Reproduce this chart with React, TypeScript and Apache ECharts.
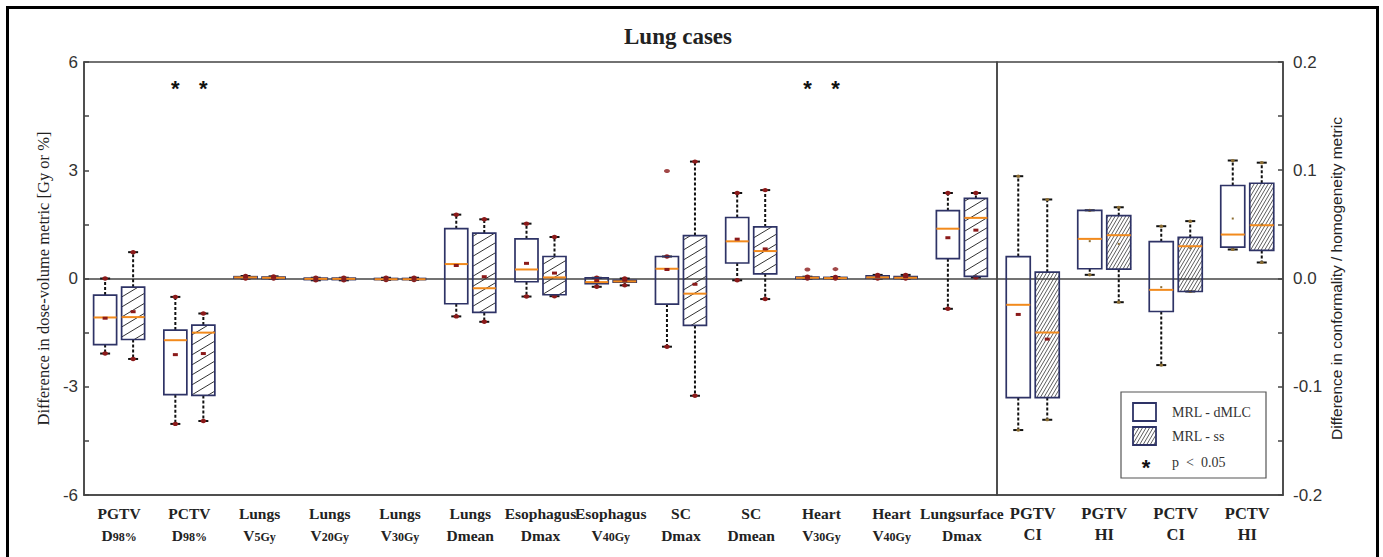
import React, { useEffect, useRef } from 'react';
import * as echarts from 'echarts';

// ---------- categories ----------
const leftLine1 = ['PGTV', 'PCTV', 'Lungs', 'Lungs', 'Lungs', 'Lungs', 'Esophagus', 'Esophagus', 'SC', 'SC', 'Heart', 'Heart', 'Lungsurface'];
const leftLine2 = ['D', 'D', 'V', 'V', 'V', 'Dmean', 'Dmax', 'V', 'Dmax', 'Dmean', 'V', 'V', 'Dmax'];
const leftSub = ['98%', '98%', '5Gy', '20Gy', '30Gy', '', '', '40Gy', '', '', '30Gy', '40Gy', ''];
const rightLine1 = ['PGTV', 'PGTV', 'PCTV', 'PCTV'];
const rightLine2 = ['CI', 'HI', 'CI', 'HI'];

// ---------- box statistics: [min, q1, median, q3, max, mean] ----------
const leftDmlc = [
  [-2.08, -1.83, -1.08, -0.46, 0.0, -1.1],
  [-4.03, -3.22, -1.71, -1.43, -0.51, -2.11],
  [0.0, 0.01, 0.03, 0.05, 0.07, 0.04],
  [-0.05, -0.03, -0.01, 0.01, 0.02, -0.01],
  [-0.04, -0.03, -0.02, 0.0, 0.02, -0.01],
  [-1.05, -0.7, 0.4, 1.38, 1.77, 0.36],
  [-0.5, -0.09, 0.25, 1.1, 1.52, 0.42],
  [-0.23, -0.14, -0.1, 0.02, 0.02, -0.06],
  [-1.89, -0.71, 0.27, 0.61, 0.61, 0.25],
  [-0.05, 0.43, 1.03, 1.69, 2.37, 1.09],
  [0.0, 0.0, 0.02, 0.04, 0.05, 0.03],
  [0.0, 0.01, 0.03, 0.07, 0.1, 0.06],
  [-0.84, 0.55, 1.38, 1.88, 2.37, 1.13],
];
const leftSs = [
  [-2.23, -1.69, -1.07, -0.24, 0.73, -0.92],
  [-3.95, -3.24, -1.5, -1.29, -0.97, -2.08],
  [0.0, 0.0, 0.02, 0.04, 0.06, 0.03],
  [-0.05, -0.03, -0.01, 0.01, 0.02, -0.01],
  [-0.04, -0.03, -0.02, 0.0, 0.02, -0.01],
  [-1.2, -0.94, -0.27, 1.26, 1.64, 0.05],
  [-0.49, -0.45, 0.03, 0.61, 1.15, 0.15],
  [-0.19, -0.1, -0.08, -0.05, 0.0, -0.05],
  [-3.25, -1.3, -0.42, 1.19, 3.24, -0.16],
  [-0.57, 0.13, 0.76, 1.43, 2.45, 0.82],
  [0.0, 0.0, 0.01, 0.03, 0.04, 0.02],
  [0.0, 0.0, 0.02, 0.05, 0.1, 0.05],
  [0.03, 0.06, 1.68, 2.22, 2.37, 1.34],
];
const rightDmlc = [
  [-0.14, -0.11, -0.0243, 0.0203, 0.0945, -0.0332],
  [0.0034, 0.009, 0.0366, 0.063, 0.063, 0.0345],
  [-0.08, -0.0305, -0.0105, 0.034, 0.0483, -0.008],
  [0.0268, 0.029, 0.0406, 0.0859, 0.109, 0.0554],
];
const rightSs = [
  [-0.1305, -0.11, -0.0499, 0.0058, 0.073, -0.056],
  [-0.0219, 0.0086, 0.04, 0.058, 0.0658, 0.032],
  [-0.012, -0.012, 0.0298, 0.0379, 0.053, 0.028],
  [0.0148, 0.0259, 0.0492, 0.088, 0.107, 0.05],
];

// outliers: [categoryIndex, value]
const leftOutliersDmlc = [[8, 2.98], [10, 0.25]];
const leftOutliersSs = [[10, 0.26]];

// significance markers (p < 0.05)
const sigCategories = [1, 10];
const sigLevel = 5.35;

// ---------- styles ----------
const NAVY = '#2e3366';
const ORANGE = '#f28a1c';
const DARKRED = '#8b1a1a';
const AXIS = '#444';
const SERIF = 'Liberation Serif';
const SANS = 'Liberation Sans';

function hatchLines(x0: number, y0: number, x1: number, y1: number, k: number, step: number, lw: number) {
  const out: any[] = [];
  const cStart = Math.ceil((y0 + k * x0) / step) * step;
  const cEnd = y1 + k * x1;
  for (let c = cStart; c <= cEnd; c += step) {
    const xa = Math.max(x0, (c - y1) / k);
    const xb = Math.min(x1, (c - y0) / k);
    if (xb - xa > 0.3) {
      out.push({
        type: 'line',
        shape: { x1: xa, y1: c - k * xa, x2: xb, y2: c - k * xb },
        style: { stroke: '#333', lineWidth: lw },
      });
    }
  }
  return out;
}

function makeRender(offset: number, bw: number, hatched: boolean, k: number, step: number, right: boolean) {
  return (params: any, api: any) => {
    const cat = api.value(0);
    const mn = api.value(1), q1 = api.value(2), md = api.value(3), q3 = api.value(4), mx = api.value(5), mean = api.value(6);
    const cx = api.coord([cat, 0])[0] + offset;
    const Y = (v: number) => api.coord([cat, v])[1];
    const yMin = Y(mn), yQ1 = Y(q1), yMd = Y(md), yQ3 = Y(q3), yMax = Y(mx), yMean = Y(mean);
    const children: any[] = [];
    const whisk = { stroke: '#111', lineWidth: 2, lineDash: [3, 2] };
    if (yMax < yQ3 - 0.5) children.push({ type: 'line', shape: { x1: cx, y1: yQ3, x2: cx, y2: yMax }, style: whisk });
    if (yMin > yQ1 + 0.5) children.push({ type: 'line', shape: { x1: cx, y1: yQ1, x2: cx, y2: yMin }, style: whisk });
    const capDot = right ? '#8c6d32' : DARKRED;
    [yMax, yMin].forEach((yy) => {
      children.push({ type: 'line', shape: { x1: cx - 5, y1: yy, x2: cx + 5, y2: yy }, style: { stroke: '#111', lineWidth: 2 } });
      children.push({ type: 'ellipse', shape: { cx, cy: yy, rx: right ? 2 : 2.8, ry: right ? 1.6 : 2.2 }, style: { fill: capDot } });
    });
    const x0 = cx - bw / 2, x1 = cx + bw / 2;
    const top = Math.min(yQ3, yQ1), bot = Math.max(yQ3, yQ1);
    if (hatched) children.push(...hatchLines(x0, top, x1, bot, k, step, right ? 0.8 : 1));
    children.push({
      type: 'rect',
      shape: { x: x0, y: top, width: bw, height: Math.max(bot - top, 1) },
      style: { fill: 'none', stroke: NAVY, lineWidth: 1.7 },
    });
    children.push({ type: 'line', shape: { x1: x0, y1: yMd, x2: x1, y2: yMd }, style: { stroke: ORANGE, lineWidth: 2 } });
    const big = !right || cat === 0;
    children.push({
      type: 'rect',
      shape: big ? { x: cx - 2.5, y: yMean - 1.5, width: 5, height: 3 } : { x: cx - 1, y: yMean - 1, width: 2, height: 2 },
      style: { fill: big ? DARKRED : '#8c6d32' },
    });
    return { type: 'group', children };
  };
}

const zeroLine = {
  silent: true,
  symbol: ['none', 'none'],
  label: { show: false },
  lineStyle: { color: AXIS, width: 1.5, type: 'solid' },
  data: [{ yAxis: 0 }],
};

function legendGraphic() {
  const els: any[] = [];
  els.push({ type: 'rect', shape: { x: 1121, y: 392, width: 145, height: 86 }, style: { fill: '#fff', stroke: '#555', lineWidth: 1.2 }, z: 100 });
  els.push({ type: 'rect', shape: { x: 1133, y: 403, width: 23, height: 18 }, style: { fill: 'none', stroke: NAVY, lineWidth: 1.8 }, z: 101 });
  hatchLines(1133, 427, 1156, 445, 1.7, 6, 0.8).forEach((l) => els.push({ ...l, z: 101 }));
  els.push({ type: 'rect', shape: { x: 1133, y: 427, width: 23, height: 18 }, style: { fill: 'none', stroke: NAVY, lineWidth: 1.8 }, z: 101 });
  const ts = { fontFamily: SERIF, fontSize: 14, fill: '#333', verticalAlign: 'middle', align: 'left' };
  els.push({ type: 'text', x: 1172, y: 412, style: { ...ts, text: 'MRL - dMLC' }, z: 101 });
  els.push({ type: 'text', x: 1172, y: 436, style: { ...ts, text: 'MRL - ss' }, z: 101 });
  els.push({ type: 'text', x: 1146, y: 467, style: { text: '*', fontFamily: SANS, fontWeight: 'bold', fontSize: 22, fill: '#111', align: 'center', verticalAlign: 'middle' }, z: 101 });
  els.push({ type: 'text', x: 1172, y: 462, style: { ...ts, text: 'p\u00a0\u00a0<\u00a0\u00a00.05' }, z: 101 });
  return els;
}

const leftLabelRich = {
  a: { fontFamily: SERIF, fontWeight: 'bold', fontSize: 15.5, lineHeight: 20, color: '#222' },
  b: { fontFamily: SERIF, fontWeight: 'bold', fontSize: 15.5, lineHeight: 20, color: '#222', verticalAlign: 'bottom' },
  s: { fontFamily: SERIF, fontWeight: 'bold', fontSize: 12, lineHeight: 20, color: '#222', verticalAlign: 'bottom' },
};
const rightLabelRich = {
  a: { fontFamily: SERIF, fontWeight: 'bold', fontSize: 16.5, lineHeight: 21, color: '#222' },
  b: { fontFamily: SERIF, fontWeight: 'bold', fontSize: 16.5, lineHeight: 21, color: '#222' },
};

function buildOption() {
  const gridCommon = { top: 62, bottom: 62, show: true, borderColor: AXIS, borderWidth: 1.5, containLabel: false };
  const xCommon = {
    type: 'category',
    boundaryGap: true,
    axisLine: { onZero: false, lineStyle: { color: AXIS, width: 1.5 } },
    axisTick: { inside: true, alignWithLabel: true, length: 6, lineStyle: { color: AXIS, width: 1.5 } },
    splitLine: { show: false },
  };
  return {
    animation: false,
    backgroundColor: '#fff',
    title: {
      text: 'Lung cases',
      left: 619,
      top: 20,
      textStyle: { fontFamily: SERIF, fontWeight: 'bold', fontSize: 23, color: '#222' },
    },
    grid: [
      { ...gridCommon, left: 84, right: 386 },
      { ...gridCommon, left: 997, right: 100 },
    ],
    xAxis: [
      {
        ...xCommon,
        gridIndex: 0,
        data: leftLine1.map((_, i) => i),
        axisLabel: {
          interval: 0,
          margin: 8,
          rich: leftLabelRich,
          formatter: (_v: any, i: number) =>
            `{a|${leftLine1[i]}}\n{b|${leftLine2[i]}}` + (leftSub[i] ? `{s|${leftSub[i]}}` : ''),
        },
      },
      {
        ...xCommon,
        gridIndex: 1,
        data: rightLine1.map((_, i) => i),
        axisLabel: {
          interval: 0,
          margin: 8,
          rich: rightLabelRich,
          formatter: (_v: any, i: number) => `{a|${rightLine1[i]}}\n{b|${rightLine2[i]}}`,
        },
      },
    ],
    yAxis: [
      {
        type: 'value',
        gridIndex: 0,
        min: -6,
        max: 6,
        interval: 1.5,
        axisLine: { show: true, lineStyle: { color: AXIS, width: 1.5 } },
        axisTick: { show: true, inside: true, length: 5, lineStyle: { color: AXIS, width: 1.5 } },
        splitLine: { show: false },
        axisLabel: {
          margin: 6,
          fontFamily: SANS,
          fontSize: 17,
          color: '#333',
          formatter: (v: number) => (Math.abs(v % 3) < 1e-9 ? String(v) : ''),
        },
        name: 'Difference in dose-volume metric [Gy or %]',
        nameLocation: 'middle',
        nameGap: 29,
        nameTextStyle: { fontFamily: SERIF, fontSize: 16.5, color: '#222' },
      },
      {
        type: 'value',
        gridIndex: 1,
        position: 'right',
        min: -0.2,
        max: 0.2,
        interval: 0.05,
        axisLine: { show: true, lineStyle: { color: AXIS, width: 1.5 } },
        axisTick: { show: true, inside: true, length: 5, lineStyle: { color: AXIS, width: 1.5 } },
        splitLine: { show: false },
        axisLabel: {
          margin: 10,
          fontFamily: SANS,
          fontSize: 17,
          color: '#333',
          formatter: (v: number) => {
            const r = Math.round(v * 100);
            if (r % 10 !== 0) return '';
            return r === 0 ? '0.0' : (r / 100).toFixed(1);
          },
        },
        name: 'Difference in conformality / homogeneity metric',
        nameLocation: 'middle',
        nameGap: 45,
        nameTextStyle: { fontFamily: SANS, fontSize: 15.5, color: '#222' },
      },
    ],
    graphic: [
      { type: 'rect', shape: { x: 7.5, y: 7.5, width: 1370, height: 620 }, style: { fill: 'none', stroke: '#000', lineWidth: 3 }, z: 200 },
      ...legendGraphic(),
    ],
    series: [
      {
        type: 'custom',
        name: 'MRL - dMLC',
        xAxisIndex: 0,
        yAxisIndex: 0,
        clip: false,
        renderItem: makeRender(-14, 23, false, 0.6, 10, false),
        encode: { x: 0, y: 3 },
        data: leftDmlc.map((d, i) => [i, ...d]),
        markLine: zeroLine,
        z: 5,
      },
      {
        type: 'custom',
        name: 'MRL - ss',
        xAxisIndex: 0,
        yAxisIndex: 0,
        clip: false,
        renderItem: makeRender(14, 23, true, 0.6, 10, false),
        encode: { x: 0, y: 3 },
        data: leftSs.map((d, i) => [i, ...d]),
        z: 5,
      },
      {
        type: 'custom',
        name: 'MRL - dMLC',
        xAxisIndex: 1,
        yAxisIndex: 1,
        clip: false,
        renderItem: makeRender(-14.5, 24, false, 1.7, 6, true),
        encode: { x: 0, y: 3 },
        data: rightDmlc.map((d, i) => [i, ...d]),
        markLine: zeroLine,
        z: 5,
      },
      {
        type: 'custom',
        name: 'MRL - ss',
        xAxisIndex: 1,
        yAxisIndex: 1,
        clip: false,
        renderItem: makeRender(14.5, 24, true, 1.7, 6, true),
        encode: { x: 0, y: 3 },
        data: rightSs.map((d, i) => [i, ...d]),
        z: 5,
      },
      {
        type: 'scatter',
        xAxisIndex: 0,
        yAxisIndex: 0,
        symbol: 'circle',
        symbolSize: [6, 4],
        symbolOffset: [-14, 0],
        itemStyle: { color: DARKRED },
        data: leftOutliersDmlc,
        z: 6,
      },
      {
        type: 'scatter',
        xAxisIndex: 0,
        yAxisIndex: 0,
        symbol: 'circle',
        symbolSize: [6, 4],
        symbolOffset: [14, 0],
        itemStyle: { color: DARKRED },
        data: leftOutliersSs,
        z: 6,
      },
      {
        type: 'custom',
        xAxisIndex: 0,
        yAxisIndex: 0,
        clip: false,
        encode: { x: 0, y: 1 },
        data: sigCategories.map((c) => [c, sigLevel]),
        renderItem: (params: any, api: any) => {
          const p = api.coord([api.value(0), api.value(1)]);
          const st = { text: '*', fontFamily: SANS, fontWeight: 'bold', fontSize: 22, fill: '#111', align: 'center', verticalAlign: 'middle' };
          return {
            type: 'group',
            children: [
              { type: 'text', x: p[0] - 14, y: p[1] + 3, style: st },
              { type: 'text', x: p[0] + 14, y: p[1] + 3, style: st },
            ],
          };
        },
        z: 6,
      },
    ],
  };
}

export default function App() {
  const ref = useRef<HTMLDivElement>(null);
  useEffect(() => {
    const chart = echarts.init(ref.current as HTMLDivElement, null, { renderer: 'svg' });
    chart.setOption(buildOption() as any);
    return () => chart.dispose();
  }, []);
  return (
    <div
      ref={ref}
      style={{ position: 'fixed', left: 0, top: 0, width: 1383, height: 557, background: '#fff' }}
    />
  );
}
